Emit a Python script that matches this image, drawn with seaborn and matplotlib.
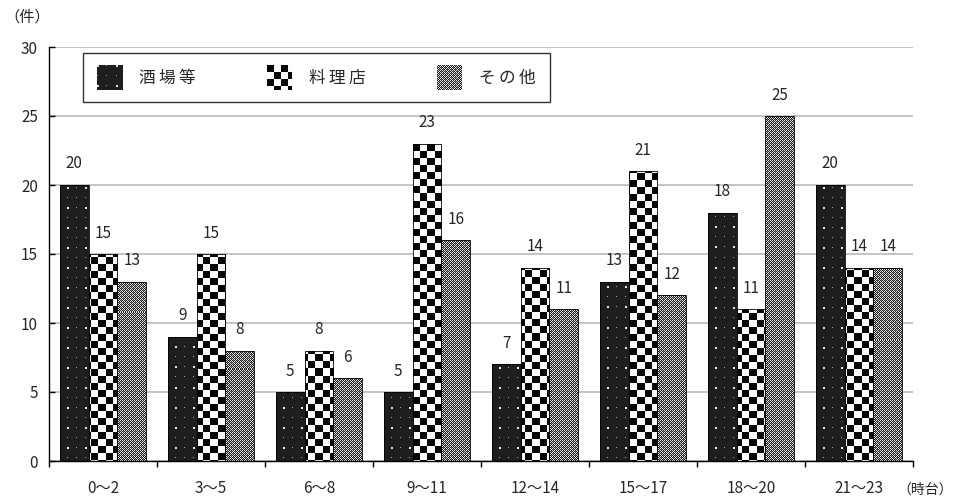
import numpy as np
import pandas as pd
import matplotlib
matplotlib.use("Agg")
import matplotlib.pyplot as plt
import matplotlib.patches as mpatches
import seaborn as sns

# --- data -------------------------------------------------------------
hours = ["0〜2", "3〜5", "6〜8", "9〜11", "12〜14", "15〜17", "18〜20", "21〜23"]
series = ["酒場等", "料理店", "その他"]
bars_sakaba = [20, 9, 5, 5, 7, 13, 18, 20]
bars_ryori = [15, 15, 8, 23, 14, 21, 11, 14]
bars_other = [13, 8, 6, 16, 11, 12, 25, 14]
yticks = [0, 5, 10, 15, 20, 25, 30]

df = pd.DataFrame({
    "時間帯": hours * 3,
    "種別": [series[0]] * 8 + [series[1]] * 8 + [series[2]] * 8,
    "件数": bars_sakaba + bars_ryori + bars_other,
})

sns.set_theme(style="white")
plt.rcParams["font.family"] = ["Noto Sans CJK JP", "DejaVu Sans"]


# --- fill textures ----------------------------------------------------
def dots_texture(h, w):
    img = np.full((h, w), 0.12)
    yy, xx = np.mgrid[0:h, 0:w]
    big = ((xx % 18) < 2) & ((yy % 20) < 2)
    small = ((xx % 18) == 9) & ((yy % 20) == 10)
    small2 = ((xx % 18) == 0) & ((yy % 20) == 10)
    small3 = ((xx % 18) == 9) & ((yy % 20) == 0)
    img[big] = 0.9
    img[small | small2 | small3] = 0.65
    return img


def checker_texture(h, w, cell=7):
    yy, xx = np.mgrid[0:h, 0:w]
    return (((xx // cell) + (yy // cell)) % 2).astype(float) * 0.97 + 0.02


def knit_texture(h, w):
    yy, xx = np.mgrid[0:h, 0:w]
    a = ((xx + yy) % 4 == 0) | ((xx - yy) % 4 == 0)
    b = ((xx % 2 == 0) & (yy % 2 == 0))
    img = np.where(a, 0.92, 0.1)
    img = np.where(b & ~a, 0.5, img)
    return img


textures = [dots_texture, checker_texture, knit_texture]

# --- figure -----------------------------------------------------------
fig = plt.figure(figsize=(9.56, 5.04), dpi=100)
ax = fig.add_axes([49 / 956, 1 - 461 / 504, 864 / 956, 414 / 504])

sns.barplot(data=df, x="時間帯", y="件数", hue="種別", hue_order=series,
            order=hours, width=0.8, ax=ax, legend=False,
            edgecolor="black", linewidth=0.6, saturation=1)

ax.set_xlim(-0.5, len(hours) - 0.5)
ax.set_ylim(0, 30)
ax.set_yticks(yticks)
ax.set_xlabel("")
ax.set_ylabel("")

ax.set_axisbelow(True)
ax.yaxis.grid(True, color="#c4c4c4", linewidth=1.4)
ax.xaxis.grid(False)
for s in ["top", "right"]:
    ax.spines[s].set_visible(False)
for s in ["left", "bottom"]:
    ax.spines[s].set_color("black")
    ax.spines[s].set_linewidth(1.0)

ax.tick_params(axis="y", direction="in", length=4.5, width=1, color="black",
               labelsize=11, pad=8, left=True)
ax.tick_params(axis="x", which="major", length=0, labelsize=11, pad=14)
ax.set_xticks(np.arange(-0.5, len(hours) + 0.5, 1), minor=True)
ax.tick_params(axis="x", which="minor", direction="out", length=4,
               width=1, color="black", bottom=True)

# textured fills clipped to each bar
bb = ax.get_window_extent()
H, W = int(round(bb.height)), int(round(bb.width))
for container, tex in zip(ax.containers, textures):
    img = tex(H, W)
    for bar in container:
        bar.set_facecolor("none")
        bar.set_zorder(3)
        im = ax.imshow(img, cmap="gray", vmin=0, vmax=1,
                       extent=(-0.5, len(hours) - 0.5, 0, 30),
                       aspect="auto", interpolation="nearest", zorder=2, origin="upper")
        im.set_clip_path(bar)
    ax.bar_label(container, fontsize=11, padding=9)

ax.set_xlim(-0.5, len(hours) - 0.5)
ax.set_ylim(0, 30)

# legend, with letter-spaced labels
handles = [mpatches.Patch(facecolor="none", edgecolor="none",
                          label="\u2009".join(s)) for s in series]
leg = ax.legend(handles=handles, loc="upper left", bbox_to_anchor=(34 / 864, 408 / 414),
                ncol=3, frameon=True, fancybox=False, fontsize=12,
                handlelength=1.5, handleheight=1.5, handletextpad=1.0,
                columnspacing=4.3, borderpad=0.85, borderaxespad=0)
leg.get_frame().set_edgecolor("black")
leg.get_frame().set_linewidth(1.0)

fig.canvas.draw()
renderer = fig.canvas.get_renderer()
for h, tex in zip(leg.legend_handles, textures):
    e = h.get_window_extent(renderer)
    side = 25
    cx, cy = (e.x0 + e.x1) / 2, (e.y0 + e.y1) / 2
    hax = fig.add_axes([(cx - side / 2) / 956, (cy - side / 2) / 504, side / 956, side / 504])
    hax.imshow(tex(side, side), cmap="gray", vmin=0, vmax=1,
               interpolation="nearest", aspect="auto")
    hax.set_axis_off()
    hax.set_zorder(10)

fig.text(27 / 956, 1 - 17 / 504, "（件）", ha="center", va="center", fontsize=11)
fig.text(953 / 956, 1 - 490 / 504, "（時台）", ha="right", va="center", fontsize=10)

fig.savefig("out.png", dpi=100)
